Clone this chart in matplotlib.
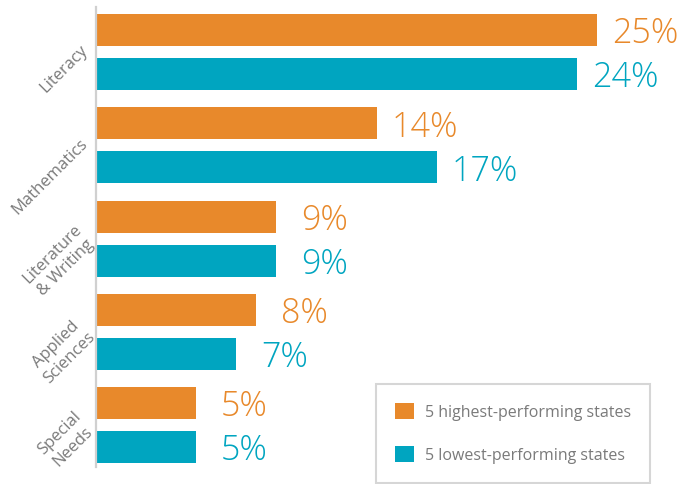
import matplotlib
matplotlib.use("Agg")
import matplotlib.pyplot as plt
from matplotlib.patches import Patch
import matplotlib.transforms as mtransforms
import numpy as np

plt.rcParams['font.family'] = ['Open Sans', 'DejaVu Sans']

categories = ["Literacy", "Mathematics", "Literature\n& Writing", "Applied\nSciences", "Special\nNeeds"]
highest = [25, 14, 9, 8, 5]
lowest = [24, 17, 9, 7, 5]
series_names = ["5 highest-performing states", "5 lowest-performing states"]

ORANGE = "#E8892B"
TEAL = "#00A5C0"
GRAY = "#7a7a7a"

W, H = 690, 485
fig = plt.figure(figsize=(W / 100, H / 100), dpi=100)
ax_left, ax_right, ax_top, ax_bottom = 96, 690, 8, 468
ax = fig.add_axes([ax_left / W, (H - ax_bottom) / H, (ax_right - ax_left) / W, (ax_bottom - ax_top) / H])

px_per_pct = 20.04
ax.set_xlim(0, (ax_right - ax_left) / px_per_pct)
ax.set_ylim(4.45, -0.483)

y = np.arange(len(categories))
off = 0.236
h = 0.343
ax.barh(y - off, highest, height=h, color=ORANGE, label=series_names[0])
ax.barh(y + off, lowest, height=h, color=TEAL, label=series_names[1])

for vals, dy, col in ((highest, -off, ORANGE), (lowest, off, TEAL)):
    for yi, v in zip(y, vals):
        ax.annotate(f"{v}%", xy=(v, yi + dy), xytext=(48, -3), textcoords="offset pixels",
                    ha="center", va="center", fontsize=24.5, fontweight="light", color=col)

ax.set_yticks(y)
ax.set_yticklabels(categories, rotation=45, ha="right", va="center", rotation_mode="anchor",
                   fontsize=12, color=GRAY, multialignment="center", linespacing=1.25)
ax.tick_params(axis="y", length=0, pad=6)
shift = mtransforms.ScaledTranslation(-2 / 100, 5 / 100, fig.dpi_scale_trans)
for lab in ax.get_yticklabels():
    lab.set_transform(lab.get_transform() + shift)
ax.set_xticks([])
for s in ("top", "right", "bottom"):
    ax.spines[s].set_visible(False)
ax.spines["left"].set_color("#d0d0d0")
ax.spines["left"].set_linewidth(1.6)

handles = [Patch(facecolor=ORANGE, edgecolor="none"), Patch(facecolor=TEAL, edgecolor="none")]
leg = fig.legend(handles, series_names, loc="lower left",
                 bbox_to_anchor=(376 / W, 1.5 / H), bbox_transform=fig.transFigure,
                 fontsize=11.5, frameon=True, fancybox=False, edgecolor="#cccccc",
                 handlelength=1.18, handleheight=1.18, handletextpad=0.7,
                 labelspacing=1.6, borderpad=1.2, borderaxespad=0)
leg.get_frame().set_linewidth(1.5)
for t in leg.get_texts():
    t.set_color(GRAY)

fig.savefig("out.png", dpi=100)
